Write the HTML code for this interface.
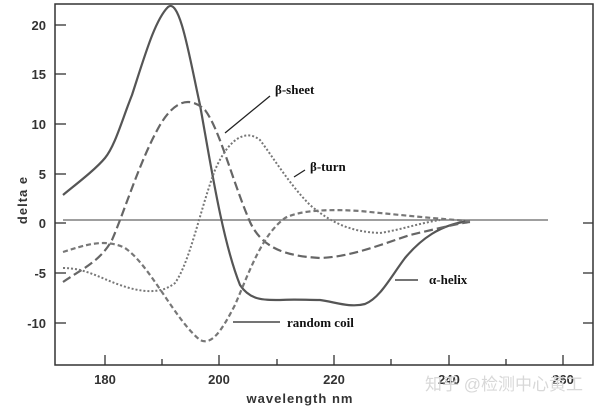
<!DOCTYPE html>
<html><head><style>
body{margin:0;background:#fff;}
svg{display:block;}
.t{font-family:"Liberation Sans",sans-serif;font-weight:bold;font-size:13px;fill:#333;}
.l{font-family:"Liberation Serif",serif;font-weight:bold;font-size:13px;fill:#111;}
</style></head><body>
<svg width="601" height="414" viewBox="0 0 601 414" xmlns="http://www.w3.org/2000/svg">
<rect width="601" height="414" fill="#fff"/>
<rect x="55" y="4" width="538" height="361" fill="none" stroke="#333" stroke-width="1.5"/>
<g stroke="#333" stroke-width="1.3">
<line x1="55" y1="25" x2="66" y2="25"/><line x1="55" y1="74" x2="66" y2="74"/><line x1="55" y1="124" x2="66" y2="124"/><line x1="55" y1="174" x2="66" y2="174"/><line x1="55" y1="223" x2="66" y2="223"/><line x1="55" y1="273" x2="66" y2="273"/><line x1="55" y1="323" x2="66" y2="323"/>
<line x1="583" y1="223" x2="593" y2="223"/><line x1="583" y1="273" x2="593" y2="273"/><line x1="583" y1="323" x2="593" y2="323"/>
<line x1="105" y1="365" x2="105" y2="355"/><line x1="162" y1="365" x2="162" y2="359"/><line x1="219" y1="365" x2="219" y2="355"/><line x1="277" y1="365" x2="277" y2="359"/><line x1="334" y1="365" x2="334" y2="355"/><line x1="391" y1="365" x2="391" y2="359"/><line x1="449" y1="365" x2="449" y2="355"/><line x1="506" y1="365" x2="506" y2="359"/><line x1="563" y1="365" x2="563" y2="355"/>
</g>
<g class="t" text-anchor="end">
<text x="46" y="30">20</text><text x="46" y="79">15</text><text x="46" y="129">10</text><text x="46" y="179">5</text><text x="46" y="228">0</text><text x="46" y="278">-5</text><text x="46" y="328">-10</text>
</g>
<g class="t" text-anchor="middle">
<text x="105" y="384">180</text><text x="219" y="384">200</text><text x="334" y="384">220</text><text x="449" y="384">240</text><text x="563" y="384">260</text>
<text x="300" y="403" letter-spacing="1">wavelength nm</text>
<text transform="translate(27,200) rotate(-90)" letter-spacing="1">delta e</text>
</g>
<line x1="63" y1="220" x2="548" y2="220" stroke="#666" stroke-width="1.3"/>
<g fill="none" stroke-linejoin="round">
<path stroke="#555" stroke-width="2.2" d="M63,195 C75,185 95,170 105,158 C115,146 122,120 132,95 C145,55 155,20 168,7 C180,-3 190,60 200,105 C210,160 222,240 240,285 C250,300 262,300 280,300 C295,299 305,300 320,300 C335,302 350,308 365,304 C380,298 390,278 405,258 C420,240 440,224 470,221"/>
<path stroke="#666" stroke-width="2.2" stroke-dasharray="9,4" d="M63,282 C80,270 100,262 112,240 C125,210 140,160 160,125 C175,100 190,96 205,110 C220,130 232,180 250,222 C262,248 285,256 320,258 C350,257 380,245 410,235 C440,228 460,223 470,222"/>
<path stroke="#777" stroke-width="2" stroke-dasharray="2,2" d="M63,268 C85,268 100,278 120,285 C140,292 160,295 175,283 C190,262 200,210 215,170 C228,140 245,128 260,140 C275,160 290,185 310,205 C330,222 350,232 380,233 C400,230 420,223 440,220"/>
<path stroke="#777" stroke-width="2.2" stroke-dasharray="5,3" d="M63,252 C85,245 105,238 125,248 C150,265 175,320 200,340 C212,346 222,330 235,305 C250,270 262,235 285,218 C300,210 330,209 360,211 C400,215 440,219 470,221"/>
</g>
<g stroke="#222" stroke-width="1.3">
<line x1="225" y1="133" x2="270" y2="96"/>
<line x1="294" y1="177" x2="305" y2="170"/>
<line x1="395" y1="280" x2="418" y2="280"/>
<line x1="233" y1="322" x2="280" y2="322"/>
</g>
<text class="l" x="275" y="94">β-sheet</text>
<text class="l" x="310" y="171">β-turn</text>
<text class="l" x="429" y="284">α-helix</text>
<text class="l" x="287" y="327">random coil</text>
<text x="425" y="390" font-family="'Liberation Sans','Noto Sans CJK SC',sans-serif" font-size="17" fill="#d8d8d8">知乎 @检测中心黄工</text>
</svg>
</body></html>
